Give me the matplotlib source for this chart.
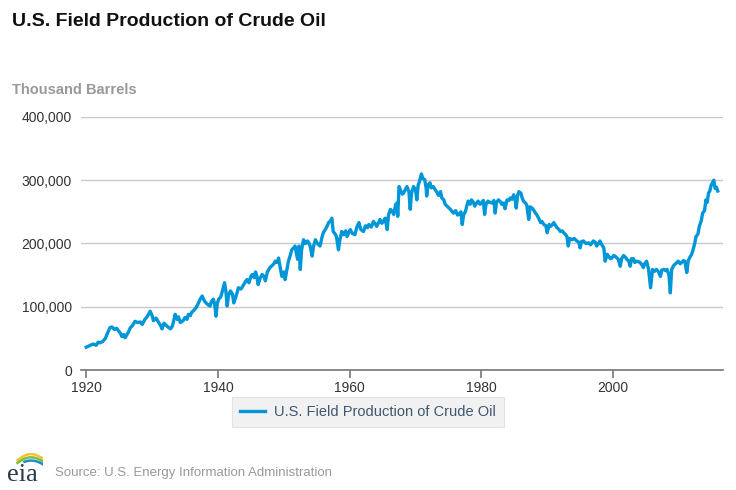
import numpy as np
import matplotlib
matplotlib.use("Agg")
import matplotlib.pyplot as plt
from matplotlib.ticker import FuncFormatter

plt.rcParams['font.family'] = ['Liberation Sans', 'DejaVu Sans']

# monthly-ish readings (year, thousand barrels)
years = [
    1920.0, 1920.4, 1920.8, 1921.1, 1921.5, 1921.8, 1922.1, 1922.5, 1922.9, 1923.3,
    1923.6, 1923.9, 1924.3, 1924.6, 1924.9, 1925.2, 1925.4, 1925.7, 1925.9, 1926.3,
    1926.7, 1927.0, 1927.4, 1927.8, 1928.2, 1928.5, 1928.9, 1929.3, 1929.7, 1930.0,
    1930.2, 1930.6, 1931.0, 1931.3, 1931.5, 1931.8, 1932.0, 1932.4, 1932.8, 1933.1,
    1933.5, 1933.8, 1934.0, 1934.3, 1934.7, 1935.0, 1935.3, 1935.5, 1935.8, 1936.0,
    1936.4, 1936.7, 1937.0, 1937.3, 1937.6, 1937.9, 1938.1, 1938.5, 1938.8, 1939.0,
    1939.3, 1939.5, 1939.7, 1939.9, 1940.1, 1940.4, 1940.6, 1940.8, 1941.0, 1941.2,
    1941.4, 1941.6, 1941.9, 1942.2, 1942.4, 1942.6, 1942.9, 1943.1, 1943.5, 1943.9,
    1944.2, 1944.4, 1944.7, 1945.0, 1945.2, 1945.5, 1945.7, 1945.9, 1946.1, 1946.4,
    1946.7, 1947.0, 1947.2, 1947.5, 1947.9, 1948.2, 1948.5, 1948.7, 1949.0, 1949.2,
    1949.4, 1949.7, 1950.0, 1950.2, 1950.5, 1950.7, 1951.0, 1951.2, 1951.5, 1951.7,
    1951.9, 1952.1, 1952.3, 1952.5, 1952.7, 1953.0, 1953.3, 1953.6, 1953.8, 1954.0,
    1954.3, 1954.5, 1954.8, 1955.1, 1955.5, 1955.8, 1956.0, 1956.3, 1956.6, 1956.8,
    1957.1, 1957.3, 1957.5, 1957.8, 1958.0, 1958.3, 1958.5, 1958.8, 1959.1, 1959.4,
    1959.6, 1959.9, 1960.1, 1960.4, 1960.8, 1961.1, 1961.4, 1961.7, 1962.1, 1962.4,
    1962.7, 1962.9, 1963.3, 1963.6, 1963.9, 1964.1, 1964.4, 1964.6, 1964.9, 1965.1,
    1965.4, 1965.7, 1965.9, 1966.2, 1966.5, 1966.7, 1967.0, 1967.2, 1967.3, 1967.5,
    1967.7, 1968.0, 1968.2, 1968.5, 1968.7, 1969.0, 1969.2, 1969.4, 1969.7, 1970.0,
    1970.2, 1970.4, 1970.6, 1970.9, 1971.1, 1971.4, 1971.6, 1971.7, 1971.9, 1972.2,
    1972.4, 1972.7, 1973.0, 1973.3, 1973.5, 1973.8, 1974.0, 1974.3, 1974.5, 1974.8,
    1975.1, 1975.3, 1975.6, 1975.8, 1976.1, 1976.4, 1976.6, 1976.9, 1977.1, 1977.3,
    1977.6, 1977.8, 1978.0, 1978.3, 1978.5, 1978.8, 1979.0, 1979.3, 1979.5, 1979.8,
    1980.0, 1980.3, 1980.5, 1980.7, 1981.0, 1981.3, 1981.6, 1981.9, 1982.1, 1982.3,
    1982.6, 1982.9, 1983.1, 1983.4, 1983.6, 1983.9, 1984.2, 1984.4, 1984.7, 1984.9,
    1985.1, 1985.3, 1985.5, 1985.7, 1985.9, 1986.0, 1986.2, 1986.4, 1986.7, 1986.9,
    1987.0, 1987.2, 1987.4, 1987.7, 1988.0, 1988.2, 1988.4, 1988.7, 1989.0, 1989.2,
    1989.5, 1989.8, 1990.0, 1990.3, 1990.5, 1990.8, 1991.0, 1991.3, 1991.5, 1991.8,
    1992.0, 1992.3, 1992.5, 1992.8, 1993.0, 1993.2, 1993.4, 1993.8, 1994.1, 1994.5,
    1994.8, 1995.0, 1995.2, 1995.5, 1995.9, 1996.3, 1996.6, 1997.0, 1997.3, 1997.5,
    1997.8, 1998.0, 1998.3, 1998.6, 1998.8, 1999.1, 1999.3, 1999.6, 1999.8, 2000.1,
    2000.3, 2000.6, 2000.8, 2001.1, 2001.3, 2001.6, 2001.9, 2002.1, 2002.4, 2002.6,
    2002.8, 2003.1, 2003.3, 2003.6, 2003.9, 2004.1, 2004.4, 2004.6, 2004.8, 2005.1,
    2005.4, 2005.7, 2005.9, 2006.0, 2006.3, 2006.6, 2006.9, 2007.2, 2007.4, 2007.7,
    2008.0, 2008.2, 2008.5, 2008.7, 2008.9, 2009.2, 2009.4, 2009.7, 2009.9, 2010.2,
    2010.4, 2010.7, 2010.9, 2011.2, 2011.4, 2011.6, 2011.9, 2012.1, 2012.4, 2012.6,
    2012.9, 2013.1, 2013.4, 2013.6, 2013.9, 2014.1, 2014.3, 2014.5, 2014.7, 2014.9,
    2015.1, 2015.3, 2015.5, 2015.7, 2015.9,
]
production = [
    36, 38, 40, 41, 39, 44, 43, 45, 50, 60,
    67, 68, 64, 66, 62, 58, 53, 56, 51, 58,
    67, 70, 77, 75, 76, 72, 80, 85, 93, 86,
    78, 82, 75, 70, 65, 74, 72, 68, 65, 70,
    88, 80, 84, 75, 78, 83, 80, 88, 86, 91,
    95, 99, 105, 112, 117, 110, 107, 103, 101, 108,
    112, 104, 85, 105, 112, 115, 122, 130, 138, 125,
    101, 118, 125, 120, 106, 112, 122, 130, 128, 135,
    140, 143, 138, 148, 151, 146, 155, 149, 135, 145,
    151, 148, 141, 155, 162, 165, 168, 172, 170, 177,
    165, 148, 155, 143, 160, 172, 182, 190, 193, 196,
    185, 175, 196, 159, 190, 206, 200, 204, 201, 196,
    180, 195, 206, 200, 196, 210, 217, 222, 228, 233,
    236, 240, 219, 215, 211, 190, 205, 219, 214, 220,
    211, 218, 222, 216, 214, 226, 233, 222, 219, 228,
    225, 230, 226, 235, 231, 227, 233, 238, 232, 235,
    240, 222, 245, 254, 250, 246, 262, 264, 243, 290,
    285, 278, 280, 286, 290, 282, 254, 280, 290, 285,
    269, 292, 298, 310, 303, 301, 289, 275, 292, 296,
    288, 290, 285, 280, 276, 282, 272, 269, 262, 259,
    256, 254, 250, 248, 252, 245, 246, 250, 230, 245,
    251, 260, 267, 262, 269, 265, 259, 264, 267, 262,
    264, 268, 246, 262, 267, 265, 264, 268, 248, 265,
    269, 266, 262, 264, 255, 269, 268, 272, 270, 277,
    272, 256, 276, 282, 280, 280, 272, 267, 264, 261,
    252, 238, 258, 256, 252, 248, 246, 240, 233, 235,
    230, 228, 217, 230, 227, 230, 233, 228, 225, 222,
    219, 220, 217, 214, 211, 196, 208, 206, 208, 204,
    202, 193, 203, 204, 200, 201, 198, 204, 202, 196,
    200, 204, 198, 193, 172, 183, 180, 176, 177, 181,
    180, 177, 175, 164, 176, 181, 178, 175, 172, 164,
    176, 176, 170, 172, 171, 170, 166, 162, 168, 172,
    159, 130, 150, 159, 156, 159, 155, 148, 158, 159,
    157, 159, 150, 122, 159, 165, 167, 170, 172, 168,
    170, 173, 172, 154, 172, 177, 182, 188, 200, 211,
    215, 227, 236, 248, 252, 269, 265, 280, 283, 292,
    296, 300, 287, 289, 283,
]
series_name = "U.S. Field Production of Crude Oil"
x_ticks = [1920, 1940, 1960, 1980, 2000]
y_ticks = [0, 100000, 200000, 300000, 400000]

vals = np.array(production) * 1000

fig = plt.figure(figsize=(7.36, 4.90), dpi=100)
W, H = 736.0, 490.0
ax = fig.add_axes([81 / W, 1 - 370 / H, (723 - 81) / W, (370 - 117) / H])

ax.plot(years, vals, color='#0096d7', lw=2.4, solid_joinstyle='round',
        label=series_name, zorder=3)

ax.set_xlim(1919.2, 2016.7)
ax.set_ylim(0, 400000)
ax.set_xticks(x_ticks)
ax.set_yticks(y_ticks)
ax.yaxis.set_major_formatter(FuncFormatter(lambda v, p: '{:,.0f}'.format(v)))

# gridlines only horizontal, light gray
ax.grid(axis='y', color='#c8c8c8', lw=1)
ax.set_axisbelow(True)
for s in ['top', 'right', 'left']:
    ax.spines[s].set_visible(False)
ax.spines['bottom'].set_color('#777777')
ax.spines['bottom'].set_linewidth(1.2)
ax.spines['bottom'].set_zorder(4)

ax.tick_params(axis='y', length=0, pad=6.5, labelsize=10, labelcolor='#333333')
ax.tick_params(axis='x', length=6, width=1.2, color='#777777', pad=2,
               labelsize=10, labelcolor='#333333')

# titles
fig.text(12 / W, 1 - 22 / H, series_name, fontsize=14, fontweight='bold',
         color='#111111', va='center', ha='left')
fig.text(12 / W, 1 - 90 / H, "Thousand Barrels", fontsize=10.5, fontweight='bold',
         color='#999999', va='center', ha='left')

# legend box
leg = ax.legend(loc='center', bbox_to_anchor=((233 + 503) / 2 / W, 1 - 412 / H),
                bbox_transform=fig.transFigure, frameon=True, fancybox=False,
                fontsize=10.5, handlelength=1.7, handletextpad=0.6,
                borderpad=0.55, labelcolor='#3e576f')
leg.get_frame().set_facecolor('#eeeeee')
leg.get_frame().set_edgecolor('#dddddd')
leg.get_frame().set_linewidth(0.8)

# source line and a little eia mark
fig.text(55 / W, 1 - 473 / H, "Source: U.S. Energy Information Administration",
         fontsize=9.5, color='#999999', va='center', ha='left')
fig.text(7 / W, 1 - 475 / H, "eia", fontsize=19, family='Liberation Serif',
         color='#2a3a4a', va='center', ha='left')
lax = fig.add_axes([13 / W, 1 - 467 / H, 30 / W, 14 / H])
lax.set_xlim(0, 1)
lax.set_ylim(0, 1)
lax.axis('off')
t = np.linspace(0.15, 1.0, 30)
lax.plot(t, 0.2 + 0.9 * np.sin(t * 2.6) * 0.8, color='#f2c230', lw=1.8)
lax.plot(t, 0.05 + 0.8 * np.sin(t * 2.6) * 0.8, color='#7cbf3c', lw=1.8)
lax.plot(t[8:], -0.1 + 0.7 * np.sin(t[8:] * 2.6) * 0.8, color='#1a8ccf', lw=1.8)

fig.savefig('out.png', dpi=100)
